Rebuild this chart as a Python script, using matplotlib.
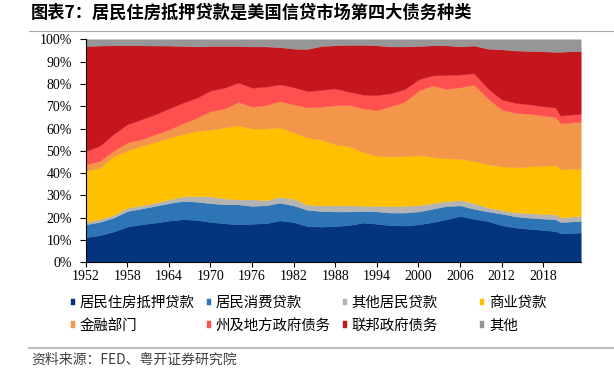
import matplotlib
matplotlib.use("Agg")
import matplotlib.pyplot as plt
from matplotlib.lines import Line2D
from matplotlib.ticker import PercentFormatter

CJK = ["Noto Sans CJK SC", "DejaVu Sans"]

# 年份（最后一个点为2023年中）
years = [1952, 1954, 1956, 1958, 1960, 1962, 1964, 1966, 1968, 1970,
         1972, 1974, 1976, 1978, 1980, 1982, 1984, 1986, 1988, 1990,
         1992, 1994, 1996, 1998, 2000, 2002, 2004, 2006, 2008, 2010,
         2012, 2014, 2016, 2018, 2019.75, 2020.5, 2022, 2023.4]

# 各类债务占比（%）
mortgage = [11.3, 12.1, 13.8, 16.0, 17.0, 17.8, 18.7, 19.3, 19.0, 18.1,
            17.5, 17.0, 17.3, 17.5, 18.8, 18.0, 16.2, 16.0, 16.2, 16.7,
            17.8, 17.3, 16.6, 16.5, 17.0, 18.0, 19.3, 20.8, 19.5, 18.5,
            16.6, 15.6, 15.0, 14.5, 14.0, 13.0, 13.2, 13.3]
consumer = [5.7, 6.0, 6.2, 7.0, 7.1, 7.5, 7.8, 8.2, 8.2, 8.4,
            8.5, 9.0, 8.0, 8.1, 7.9, 7.5, 7.3, 7.0, 6.6, 6.1,
            5.2, 5.5, 5.7, 5.8, 5.8, 6.0, 5.9, 4.7, 4.5, 4.3,
            5.2, 5.0, 5.0, 5.1, 5.3, 5.0, 5.1, 5.2]
other_household = [1.1, 1.2, 1.2, 1.5, 1.4, 1.4, 1.7, 2.0, 2.6, 3.0,
                   2.7, 2.2, 2.9, 2.3, 2.6, 3.0, 2.3, 2.5, 2.7, 2.7,
                   2.4, 2.5, 2.9, 3.0, 2.8, 2.5, 2.2, 2.4, 2.5, 1.8,
                   1.6, 1.8, 2.0, 2.1, 2.2, 2.0, 2.2, 2.3]
business = [22.9, 23.1, 26.3, 25.7, 26.7, 27.2, 27.7, 27.9, 29.1, 30.0,
            31.7, 33.2, 31.8, 32.1, 31.1, 29.7, 30.1, 29.5, 27.4, 26.5,
            24.1, 22.4, 22.3, 22.3, 22.4, 20.7, 19.2, 18.5, 18.9, 19.4,
            19.6, 20.2, 21.0, 21.6, 22.0, 21.7, 21.4, 21.2]
financial = [3.0, 3.0, 2.5, 3.5, 2.9, 3.5, 3.7, 4.9, 5.9, 8.3,
             8.5, 10.5, 9.8, 10.5, 11.9, 12.6, 13.6, 14.8, 17.5, 18.5,
             19.5, 20.6, 22.5, 24.4, 29.0, 32.1, 31.2, 32.1, 34.3, 29.5,
             25.5, 24.4, 23.6, 22.5, 21.7, 20.6, 20.8, 21.0]
state_local = [5.9, 6.8, 7.5, 8.2, 9.0, 8.9, 9.4, 9.3, 9.0, 9.2,
               9.4, 8.7, 8.5, 8.3, 7.5, 7.7, 7.3, 7.5, 7.6, 6.0,
               6.2, 6.7, 5.8, 5.6, 5.0, 4.5, 6.2, 5.7, 5.1, 4.5,
               4.5, 4.5, 4.2, 4.2, 4.2, 3.5, 3.6, 3.5]
federal = [47.1, 45.0, 39.8, 35.4, 33.2, 30.9, 28.2, 25.4, 23.0, 20.0,
           18.7, 16.4, 18.5, 18.0, 16.7, 17.3, 18.9, 19.7, 19.3, 21.0,
           22.3, 22.3, 21.0, 19.2, 15.0, 13.5, 13.3, 12.6, 12.4, 17.8,
           22.5, 23.5, 24.0, 24.6, 25.0, 28.6, 28.3, 28.2]
other = [3.0, 2.8, 2.7, 2.7, 2.7, 2.8, 2.8, 3.0, 3.2, 3.0,
         3.0, 3.0, 3.2, 3.2, 3.5, 4.2, 4.3, 3.0, 2.7, 2.5,
         2.5, 2.7, 3.2, 3.2, 3.0, 2.7, 2.7, 3.2, 2.8, 4.2,
         4.5, 5.0, 5.2, 5.4, 5.6, 5.6, 5.4, 5.3]

labels = ["居民住房抵押贷款", "居民消费贷款", "其他居民贷款", "商业贷款",
          "金融部门", "州及地方政府债务", "联邦政府债务", "其他"]
colors = ["#03357F", "#2E75B6", "#B4B4B4", "#FFC000",
          "#F4964A", "#FF5050", "#C5161E", "#969696"]
xticks = list(range(1952, 2019, 6))

W, H = 614, 383
fig = plt.figure(figsize=(W / 100, H / 100), dpi=100)
ax = fig.add_axes([85.7 / W, 1 - 262.3 / H, 495 / W, 223 / H])

series = [mortgage, consumer, other_household, business,
          financial, state_local, federal, other]
polys = ax.stackplot(years, *series, colors=colors, labels=labels)
for p in polys:
    p.set_edgecolor(p.get_facecolor())
    p.set_linewidth(0.3)

ax.set_xlim(years[0], years[-1])
ax.set_ylim(0, 100)
ax.set_xticks(xticks)
ax.set_yticks(range(0, 101, 10))
ax.yaxis.set_major_formatter(PercentFormatter(decimals=0))
for s in ["top", "right"]:
    ax.spines[s].set_visible(False)
for s in ["left", "bottom"]:
    ax.spines[s].set_linewidth(0.8)
ax.tick_params(axis="y", direction="out", length=4, width=0.8, pad=6)
ax.tick_params(axis="x", direction="out", length=3.5, width=0.8, pad=2)
for lab in ax.get_xticklabels() + ax.get_yticklabels():
    lab.set_fontfamily("Liberation Serif")
    lab.set_fontsize(10)

# 图例：四列，每列两项，列宽相等
col_x = [70.7, 206.5, 342.6, 479.7]
for c in range(4):
    idx = [c, c + 4]
    fig.legend([polys[i] for i in idx], [labels[i] for i in idx],
               loc="upper left", bbox_to_anchor=(col_x[c] / W, 1 - 296 / H),
               frameon=False, borderpad=0, borderaxespad=0,
               handlelength=0.32, handleheight=0.32, handletextpad=0.32,
               labelspacing=0.62, prop={"family": CJK, "size": 10.4})

fig.text(31 / W, 1 - 13 / H, "图表7：居民住房抵押贷款是美国信贷市场第四大债务种类",
         fontsize=12.4, fontweight="bold", family=CJK, va="center", ha="left")
fig.add_artist(Line2D([29 / W, 1], [1 - 31 / H] * 2, color="#A6A6A6", lw=0.8))
fig.add_artist(Line2D([29 / W, 1], [1 - 347.7 / H] * 2, color="#BFBFBF", lw=1.5))
fig.text(31.5 / W, 1 - 360 / H, "资料来源：FED、粤开证券研究院",
         fontsize=10, style="italic", family=CJK, color="#404040",
         va="center", ha="left")

fig.savefig("out.png", dpi=100)
